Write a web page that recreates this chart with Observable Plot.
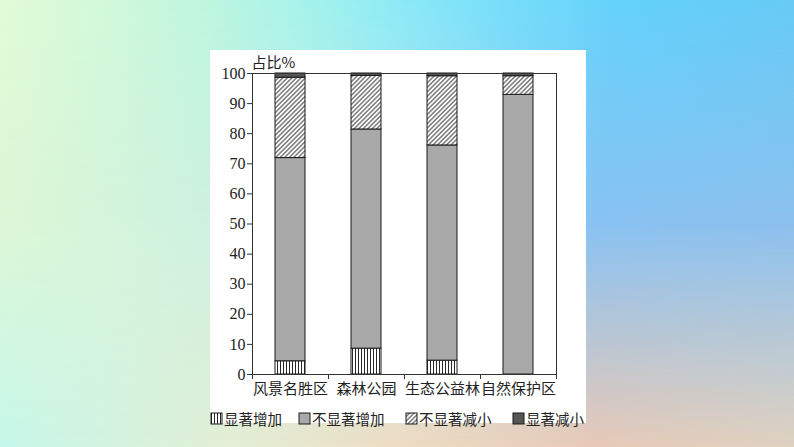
<!DOCTYPE html>
<html>
<head>
<meta charset="utf-8">
<script src="https://cdn.jsdelivr.net/npm/d3@7"></script>
<script src="https://cdn.jsdelivr.net/npm/@observablehq/plot@0.6"></script>
<style>
  html, body { margin: 0; padding: 0; }
  body { width: 794px; height: 447px; overflow: hidden; position: relative; font-family: "Liberation Serif", "Noto Sans CJK SC", serif; }
  .bg { position: absolute; left: 0; top: 0; width: 794px; height: 447px; }
  #bgBottom { background: linear-gradient(to right, #c6f8ea 0%, #e4eed4 30%, #eeddc4 50%, #e8cab8 75%, #e0d2c0 100%); }
  #bgMid { background: linear-gradient(to right, #dcf7d6 0%, #cef2e0 26%, #b8e4ee 50%, #88c2f2 74%, #8cc0ee 100%);
           -webkit-mask-image: linear-gradient(to bottom, black 0%, black 50%, transparent 100%);
           mask-image: linear-gradient(to bottom, black 0%, black 50%, transparent 100%); }
  #bgTop { background: linear-gradient(to right, #e2fbd6 0%, #c0f6de 25%, #a2f2ec 40%, #8ceaf6 50%, #74dcfa 65%, #62d0fa 80%, #66cbf5 100%);
           -webkit-mask-image: linear-gradient(to bottom, black 0%, transparent 50%);
           mask-image: linear-gradient(to bottom, black 0%, transparent 50%); }
  #panel { position: absolute; left: 210px; top: 50px; width: 376px; height: 373px; background: #fff; }
  #chart { position: absolute; left: 0; top: 0; }
  #legend { position: absolute; left: 0; top: 358px; width: 376px; height: 20px; font-family: "Noto Sans CJK SC", sans-serif; font-size: 14.5px; color: #222; }
  .item { position: absolute; top: 0; display: flex; align-items: center; height: 20px; white-space: nowrap; }
  .item svg { margin-right: 1px; flex: none; }
  #chart g[aria-label="y-axis tick label"], #chart g[aria-label="y-axis tick label"] text {
    font-family: "Liberation Serif", "Times New Roman", "DejaVu Serif", serif !important;
  }
</style>
</head>
<body>
<div class="bg" id="bgBottom"></div>
<div class="bg" id="bgMid"></div>
<div class="bg" id="bgTop"></div>
<svg width="0" height="0" style="position:absolute">
  <defs>
    <pattern id="vstripe" width="3" height="3" patternUnits="userSpaceOnUse">
      <rect width="3" height="3" fill="#fff"/>
      <line x1="1.5" y1="0" x2="1.5" y2="3" stroke="#111" stroke-width="0.9"/>
    </pattern>
    <pattern id="diag" width="3.2" height="3.2" patternUnits="userSpaceOnUse" patternTransform="rotate(45)">
      <rect width="3.2" height="3.2" fill="#fff"/>
      <line x1="0.8" y1="0" x2="0.8" y2="3.2" stroke="#222" stroke-width="0.9"/>
    </pattern>
  </defs>
</svg>
<div id="panel">
  <div id="chart"></div>
  <div id="legend"></div>
</div>
<script>
const categories = ["风景名胜区", "森林公园", "生态公益林", "自然保护区"];
const series = ["显著增加", "不显著增加", "不显著减小", "显著减小"];
const sigIncrease = [4.4, 8.6, 4.6, 0];
const nonSigIncrease = [67.5, 72.8, 71.5, 92.9];
const nonSigDecrease = [26.7, 17.8, 23.0, 6.2];
const sigDecrease = [1.4, 0.8, 0.9, 0.9];
const yTicks = [0, 10, 20, 30, 40, 50, 60, 70, 80, 90, 100];
const seriesFills = ["url(#vstripe)", "#a9a9a9", "url(#diag)", "#565656"];

const valuesBySeries = [sigIncrease, nonSigIncrease, nonSigDecrease, sigDecrease];
const data = [];
series.forEach((s, si) => {
  categories.forEach((c, ci) => {
    const v = valuesBySeries[si][ci];
    if (v > 0) data.push({category: c, series: s, value: v});
  });
});

const W = 376, H = 350;
const mL = 42, mT = 23, mR = 30, mB = 26;
const bandStep = (W - mL - mR) / categories.length;

const chart = Plot.plot({
  width: W,
  height: H,
  marginLeft: mL,
  marginTop: mT,
  marginRight: mR,
  marginBottom: mB,
  style: {background: "transparent", color: "#222"},
  x: {domain: categories, paddingInner: 0.6, paddingOuter: 0.3, label: null},
  y: {domain: [0, 100], label: null},
  color: {domain: series, range: seriesFills},
  marks: [
    Plot.barY(data, {x: "category", y: "value", fill: "series", order: series, stroke: "#1a1a1a", strokeWidth: 1}),
    Plot.frame({stroke: "#333", strokeWidth: 1}),
    Plot.axisY({ticks: yTicks, tickSize: 5, tickPadding: 2, fontSize: 16, label: null, stroke: "#333", fontFamily: "Liberation Serif"}),
    Plot.axisX({tickSize: 0, tickPadding: 9, fontSize: 15, label: null, fontFamily: "Noto Sans CJK SC"}),
    Plot.ruleX(categories, {x: d => d, dx: -bandStep / 2, y1: 0, y2: 0, insetBottom: -5, stroke: "#333"}),
    Plot.ruleX(categories.slice(-1), {x: d => d, dx: bandStep / 2, y1: 0, y2: 0, insetBottom: -5, stroke: "#333"}),
    Plot.text(["占比%"], {frameAnchor: "top-left", text: d => d, dx: -1, dy: -16, fontSize: 15, fill: "#222", fontFamily: "Noto Sans CJK SC"})
  ]
});
document.getElementById("chart").appendChild(chart);
chart.querySelectorAll('g[aria-label="y-axis tick label"] text').forEach(t => t.setAttribute("font-family", "Liberation Serif"));

// Legend
const legend = document.getElementById("legend");
const legendX = [0, 88, 195, 302];
series.forEach((s, i) => {
  const item = document.createElement("div");
  item.className = "item";
  item.style.left = legendX[i] + "px";
  item.innerHTML = `<svg width="13" height="13"><rect x="1" y="1" width="11" height="11" fill="${seriesFills[i]}" stroke="#1a1a1a" stroke-width="1"/></svg><span>${s}</span>`;
  legend.appendChild(item);
});
</script>
</body>
</html>
